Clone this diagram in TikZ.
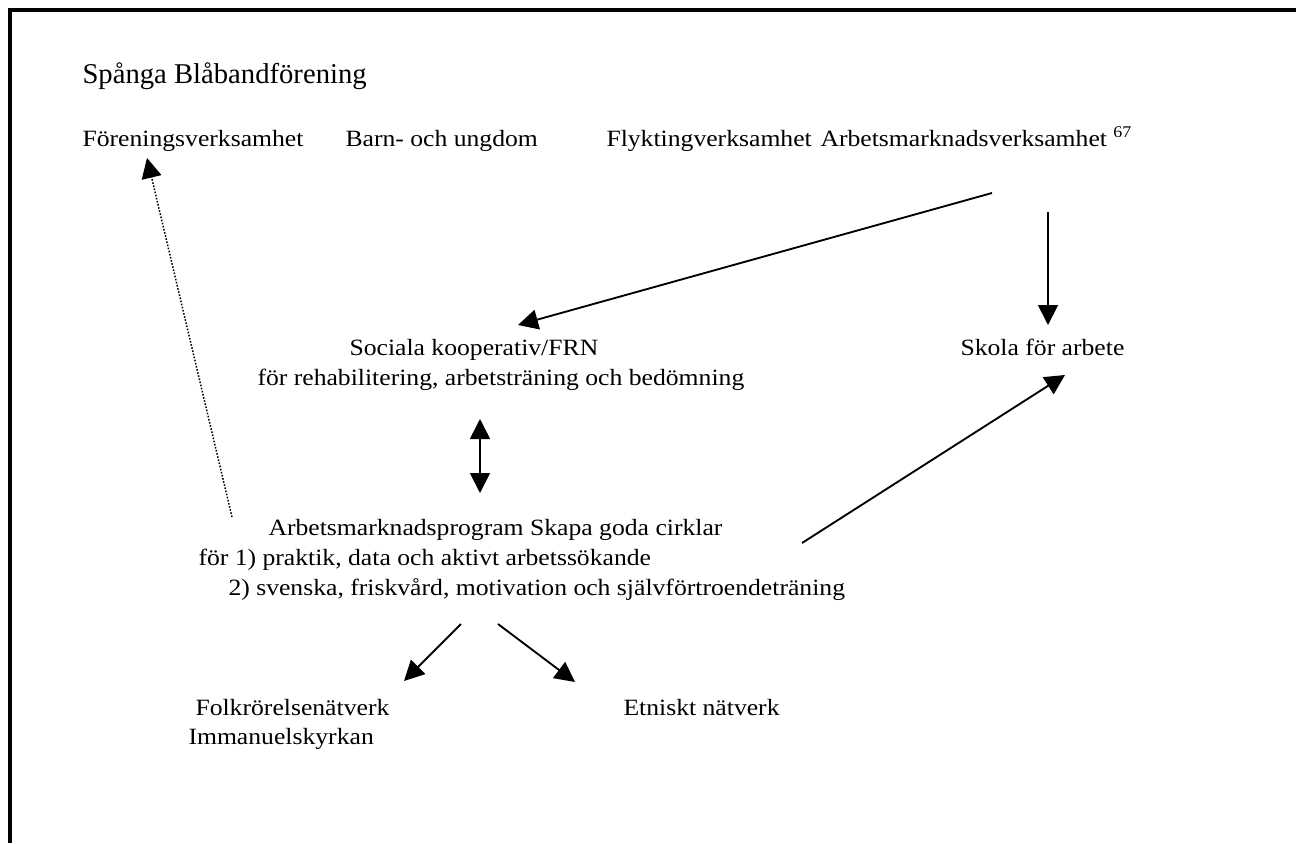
\documentclass[tikz,border=0pt]{standalone}
\usepackage{fontspec}
\setmainfont{Liberation Serif}[FakeStretch=1.1]
\newfontfamily\titlefont{Liberation Serif}
\usetikzlibrary{arrows.meta}
\tikzset{every picture/.style={line width=0.75pt}}

\begin{document}
\begin{tikzpicture}[x=0.75pt,y=0.75pt,yscale=-1,xscale=1,
  txt/.style={anchor=base west,inner sep=0pt,font=\fontsize{17.5}{21}\selectfont},
  tip/.style={-{Triangle[length=15pt,width=15pt]}},
  arr/.style={line width=1.4pt,tip},
  dotarr/.style={dash pattern=on 1.2pt off 1.2pt,line width=1.1pt,tip},
  frame/.style={line width=2.4pt}]
\useasboundingbox (0,0) rectangle (1296,843);

%Shape: frame, open to the right and below
\draw [frame] (10,843) -- (10,10) -- (1296,10);

% Text Node
\node [txt,font=\titlefont\fontsize{21.5}{25}\selectfont] (title) at (82,83) {Spånga Blåbandförening};
% Text Node
\node [txt] (foren) at (82,146) {Föreningsverksamhet};
% Text Node
\node [txt] (barn) at (345,146) {Barn- och ungdom};
% Text Node
\node [txt] (flykt) at (606,146) {Flyktingverksamhet};
% Text Node
\node [txt] (arbv) at (820,146) {Arbetsmarknadsverksamhet \textsuperscript{67}};
% Text Node
\node [txt] (soc) at (349,355) {Sociala kooperativ/FRN};
% Text Node
\node [txt] (socb) at (257,385) {för rehabilitering, arbetsträning och bedömning};
% Text Node
\node [txt] (skola) at (960,355) {Skola för arbete};
% Text Node
\node [txt] (prog) at (268,535) {Arbetsmarknadsprogram Skapa goda cirklar};
% Text Node
\node [txt] (proga) at (198,565) {för 1) praktik, data och aktivt arbetssökande};
% Text Node
\node [txt] (progb) at (228,595) {2) svenska, friskvård, motivation och självförtroendeträning};
% Text Node
\node [txt] (folk) at (195,715) {Folkrörelsenätverk};
% Text Node
\node [txt] (imm) at (188,744) {Immanuelskyrkan};
% Text Node
\node [txt] (etn) at (623,715) {Etniskt nätverk};

% arrow ends
\coordinate (arbvOut) at (992,193);
\coordinate (socIn) at (518,325);
\coordinate (arbvDown) at (1048,212);
\coordinate (skolaTop) at (1048,325);
\coordinate (socBot) at (480,419);
\coordinate (progTop) at (480,493);
\coordinate (progRight) at (802,543);
\coordinate (skolaIn) at (1065,375);
\coordinate (progDownL) at (461,624);
\coordinate (folkIn) at (404,681);
\coordinate (progDownR) at (498,624);
\coordinate (etnIn) at (575,682);
\coordinate (progDot) at (232,517);
\coordinate (forenIn) at (147,158);

%Straight Lines
\draw [arr] (arbvOut) -- (socIn);
%Straight Lines
\draw [arr] (arbvDown) -- (skolaTop);
%Straight Lines
\draw [arr,{Triangle[length=15pt,width=15pt]}-{Triangle[length=15pt,width=15pt]}] (socBot) -- (progTop);
%Straight Lines
\draw [arr] (progRight) -- (skolaIn);
%Straight Lines
\draw [arr] (progDownL) -- (folkIn);
%Straight Lines
\draw [arr] (progDownR) -- (etnIn);
%Straight Lines
\draw [dotarr] (progDot) -- (forenIn);

\end{tikzpicture}
\end{document}
